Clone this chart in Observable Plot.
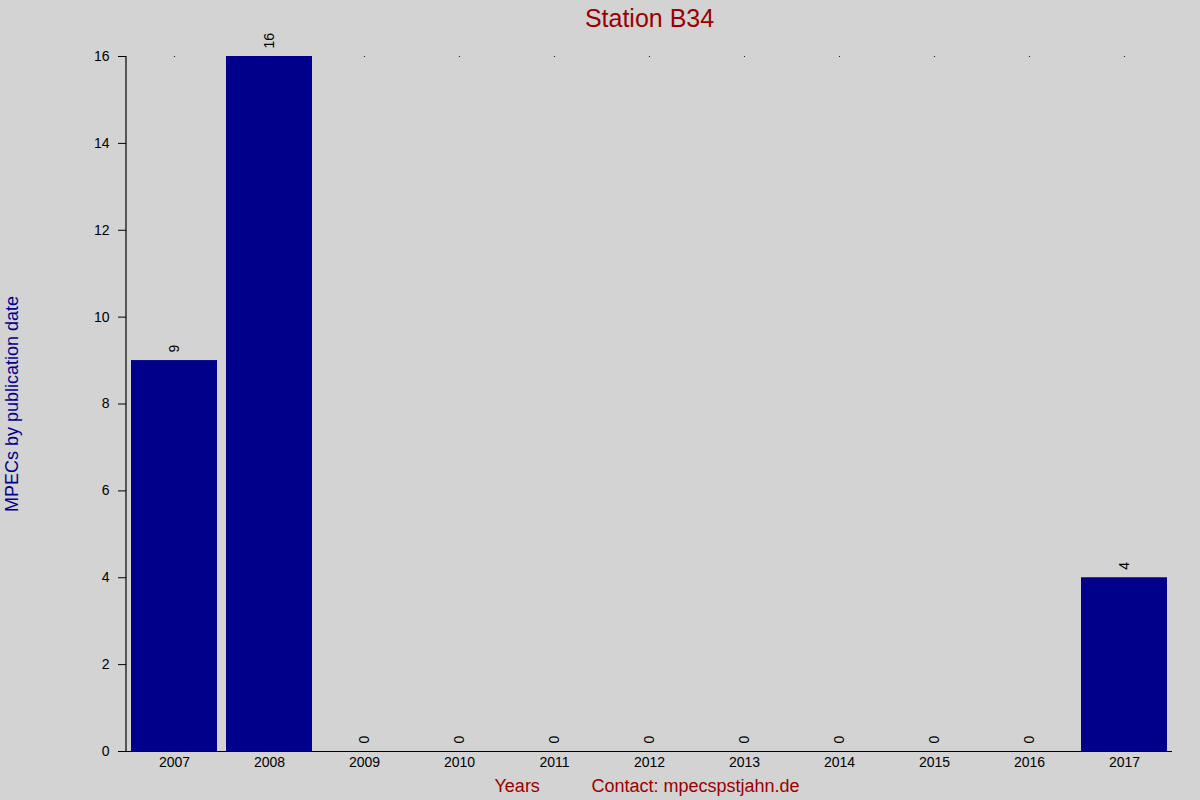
<!DOCTYPE html>
<html>
<head>
<meta charset="utf-8">
<script src="https://cdn.jsdelivr.net/npm/d3@7"></script>
<script src="https://cdn.jsdelivr.net/npm/@observablehq/plot@0.6"></script>
<style>
  html, body { margin: 0; padding: 0; background: #d3d3d3; }
  #chart svg { display: block; }
</style>
</head>
<body>
<div id="chart"></div>
<script>
const years = ["2007","2008","2009","2010","2011","2012","2013","2014","2015","2016","2017"];
const counts = [9, 16, 0, 0, 0, 0, 0, 0, 0, 0, 4];
const yTicks = [0, 2, 4, 6, 8, 10, 12, 14, 16];
const titleText = "Station B34";
const yLabel = "MPECs by publication date";
const xLabel = "Years";
const contact = "Contact: mpecspstjahn.de";

const data = years.map((y, i) => ({year: y, count: counts[i]}));
const font = "'Liberation Sans', Arial, sans-serif";
const marginLeft = 126, marginTop = 56, marginRight = 28, marginBottom = 49;

const chart = Plot.plot({
  width: 1200,
  height: 800,
  marginLeft, marginTop, marginRight, marginBottom,
  style: {background: "#d3d3d3", fontFamily: font, fontSize: "14px", color: "black"},
  x: {domain: years, paddingInner: 0.095, paddingOuter: 0.048, label: null},
  y: {domain: [0, 16], label: null},
  marks: [
    Plot.barY(data, {x: "year", y: "count", fill: "#00008B"}),
    Plot.ruleY([0], {stroke: "black", strokeWidth: 1.2}),
    Plot.axisY({ticks: yTicks, tickSize: 8, tickPadding: 9, fontSize: 14, label: null, stroke: "black"}),
    Plot.axisX({tickSize: 0, tickPadding: 6, fontSize: 14, label: null}),
    Plot.dot(years, {x: d => d, frameAnchor: "top", r: 0.6, fill: "black", stroke: null}),
    Plot.text(data, {x: "year", y: "count", text: d => String(d.count), rotate: -90, textAnchor: "start", dy: -8, fontSize: 14, fill: "black"}),
    Plot.text([titleText], {frameAnchor: "top", lineAnchor: "middle", dy: -38, fontSize: 25, fill: "#990000", text: d => d}),
    Plot.text([yLabel], {frameAnchor: "left", textAnchor: "middle", lineAnchor: "middle", rotate: -90, dx: -114, fontSize: 18, fill: "#00008B", text: d => d}),
    Plot.text([xLabel], {frameAnchor: "bottom", lineAnchor: "middle", dx: -155, dy: 35, textAnchor: "start", fontSize: 18, fill: "#990000", text: d => d}),
    Plot.text([contact], {frameAnchor: "bottom", lineAnchor: "middle", dx: -58, dy: 35, textAnchor: "start", fontSize: 18, fill: "#990000", text: d => d})
  ]
});

// y-axis line along the left edge of the frame, via the y scale
const ys = chart.scale("y");
d3.select(chart).append("line")
  .attr("x1", marginLeft).attr("x2", marginLeft)
  .attr("y1", ys.apply(ys.domain[1])).attr("y2", ys.apply(ys.domain[0]) + 0.6)
  .attr("stroke", "black").attr("stroke-width", 1.2);

document.getElementById("chart").appendChild(chart);
</script>
</body>
</html>
